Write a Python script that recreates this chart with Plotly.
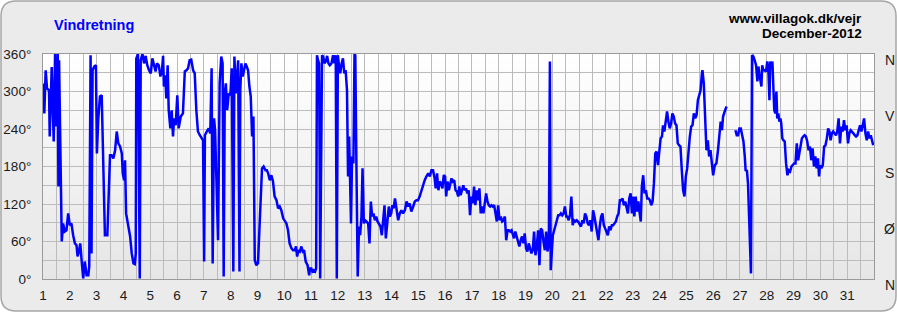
import plotly.graph_objects as go

# ---------------- data (day of month as fractional day, wind direction in degrees) ----------------
day = [
    1.0, 1.05, 1.10, 1.15, 1.225, 1.25, 1.325, 1.4, 1.45, 1.5, 1.55, 1.575, 1.6, 1.7, 1.75, 1.81, 1.875, 1.94,
    2.0, 2.06, 2.125, 2.19, 2.25, 2.29, 2.34, 2.39, 2.44, 2.5, 2.56, 2.625, 2.69, 2.725, 2.775, 2.81, 2.85, 2.91, 2.975,
    3.01, 3.06, 3.125, 3.19, 3.25, 3.31, 3.4, 3.45, 3.5, 3.56, 3.625, 3.69, 3.75, 3.81, 3.875, 3.94, 3.975,
    4.025, 4.06, 4.1, 4.15, 4.2, 4.25, 4.31, 4.375, 4.425, 4.46, 4.48, 4.545, 4.61, 4.645, 4.71, 4.77, 4.83, 4.89, 4.955,
    5.02, 5.08, 5.14, 5.2, 5.25, 5.32, 5.38, 5.44, 5.48, 5.51, 5.56, 5.6, 5.65, 5.69, 5.75, 5.8, 5.85, 5.89, 5.95,
    6.01, 6.06, 6.14, 6.22, 6.29, 6.35, 6.41, 6.47, 6.53, 6.6, 6.66, 6.72, 6.78, 6.85, 6.91, 6.97,
    7.01, 7.04, 7.11, 7.18, 7.24, 7.29, 7.33, 7.38, 7.42, 7.47, 7.53, 7.59, 7.65, 7.7, 7.74, 7.78, 7.82, 7.87, 7.93, 7.99,
    8.04, 8.1, 8.14, 8.19, 8.23, 8.28, 8.33, 8.36, 8.4, 8.45, 8.5, 8.55, 8.6, 8.65, 8.7, 8.75, 8.8, 8.85, 8.9, 8.96,
    9.02, 9.1, 9.17, 9.23, 9.3, 9.35, 9.4, 9.46, 9.52, 9.58, 9.64, 9.71, 9.77, 9.83, 9.89, 9.96,
    10.02, 10.08, 10.14, 10.2, 10.27, 10.33, 10.39, 10.44, 10.48, 10.53, 10.58, 10.64, 10.69, 10.74, 10.8, 10.87, 10.93, 10.96,
    11.01, 11.05, 11.1, 11.15, 11.19, 11.22, 11.26, 11.3, 11.34, 11.37, 11.41, 11.45, 11.5, 11.55, 11.6, 11.65, 11.7, 11.76,
    11.82, 11.87, 11.92, 11.96, 12.0, 12.04, 12.09, 12.14, 12.19, 12.24, 12.29, 12.34, 12.38, 12.42, 12.46, 12.49, 12.53,
    12.58, 12.62, 12.65, 12.69, 12.74, 12.79, 12.83, 12.88, 12.92, 12.97, 13.01, 13.06, 13.13, 13.18, 13.23, 13.28, 13.33,
    13.38, 13.43, 13.48, 13.52, 13.59, 13.64, 13.69, 13.74, 13.79, 13.85, 13.9, 13.94, 13.99, 14.03, 14.08, 14.13, 14.18,
    14.25, 14.31, 14.37, 14.43, 14.5, 14.56, 14.62, 14.68, 14.74, 14.81, 14.87, 14.93, 14.99, 15.05, 15.12, 15.18, 15.24,
    15.3, 15.37, 15.43, 15.49, 15.55, 15.61, 15.65, 15.7, 15.75, 15.8, 15.85, 15.9, 15.95,
    16.0, 16.04, 16.09, 16.14, 16.19, 16.24, 16.29, 16.34, 16.39, 16.44, 16.49, 16.53, 16.58, 16.63, 16.68, 16.73, 16.78,
    16.83, 16.88, 16.93, 16.98, 17.03, 17.08, 17.13, 17.18, 17.23, 17.28, 17.33, 17.38, 17.43, 17.48, 17.53, 17.58, 17.63,
    17.68, 17.73, 17.78, 17.83, 17.88, 17.93, 17.98, 18.03, 18.08, 18.13, 18.18, 18.23, 18.28, 18.33, 18.38, 18.43, 18.48,
    18.52, 18.57, 18.62, 18.67, 18.72, 18.77, 18.82, 18.87, 18.92, 18.97, 19.02, 19.07, 19.12, 19.17, 19.22, 19.27, 19.32,
    19.37, 19.42, 19.47, 19.52, 19.57, 19.62, 19.67, 19.72, 19.77, 19.82, 19.87, 19.91, 19.94, 19.98, 20.02, 20.07, 20.12,
    20.17, 20.22, 20.27, 20.32, 20.37, 20.42, 20.47, 20.52, 20.56, 20.61, 20.66, 20.71, 20.76, 20.81, 20.86, 20.91, 20.96,
    21.07, 21.12, 21.17, 21.22, 21.27, 21.32, 21.37, 21.42, 21.47, 21.52, 21.57, 21.62, 21.67, 21.72, 21.77, 21.82, 21.87,
    21.92, 21.97, 22.02, 22.07, 22.12, 22.17, 22.22, 22.27, 22.32, 22.37, 22.42, 22.47, 22.52, 22.57, 22.62, 22.67, 22.72,
    22.77, 22.82, 22.87, 22.92, 22.97, 23.01, 23.06, 23.11, 23.16, 23.21, 23.26, 23.3, 23.34, 23.39, 23.44, 23.49, 23.54,
    23.59, 23.64, 23.69, 23.74, 23.79, 23.84, 23.89, 23.94, 23.99, 24.04, 24.09, 24.13, 24.18, 24.23, 24.28, 24.33, 24.38,
    24.43, 24.48, 24.53, 24.58, 24.63, 24.68, 24.73, 24.78, 24.83, 24.88, 24.93, 24.98, 25.03, 25.08, 25.13, 25.18, 25.23,
    25.28, 25.33, 25.38, 25.43, 25.48, 25.53, 25.58, 25.6, 25.65, 25.7, 25.75, 25.8, 25.85, 25.9, 25.95, 26.0,
    26.06, 26.12, 26.18, 26.23, 26.28, 26.33, 26.37, 26.43, 26.5, 26.66,
    26.83, 26.88, 26.93, 26.98, 27.03, 27.08, 27.13, 27.18, 27.21, 27.26, 27.3, 27.34, 27.37, 27.41, 27.45, 27.5, 27.55,
    27.6, 27.65, 27.69, 27.72, 27.76, 27.8, 27.83, 27.87, 27.92, 27.97, 28.02, 28.06, 28.1, 28.13, 28.17, 28.21, 28.25,
    28.28, 28.32, 28.36, 28.39, 28.43, 28.47, 28.51, 28.54, 28.58, 28.62, 28.67, 28.72, 28.77, 28.82, 28.87, 28.92, 28.97,
    29.02, 29.07, 29.12, 29.17, 29.22, 29.26, 29.31, 29.36, 29.41, 29.46, 29.51, 29.56, 29.61, 29.66, 29.71, 29.76, 29.81,
    29.86, 29.91, 29.95, 29.99, 30.04, 30.09, 30.14, 30.19, 30.24, 30.29, 30.34, 30.38, 30.43, 30.48, 30.53, 30.58, 30.63,
    30.68, 30.73, 30.78, 30.83, 30.88, 30.93, 30.98, 31.03, 31.08, 31.13, 31.18, 31.23, 31.28, 31.33, 31.38, 31.43, 31.48,
    31.53, 31.58, 31.63, 31.68, 31.73, 31.78, 31.83, 31.88, 31.93, 31.97,
]

deg = [
    313, 265, 334, 305, 302, 228, 339, 220, 360, 244, 360, 148, 350, 60, 89, 76, 78, 105,
    86, 89, 70, 57, 54, 36, 44, 57, 30, 1, 28, 6, 6, 20, 358, 41, 334, 340, 342,
    201, 254, 292, 294, 158, 70, 70, 126, 198, 198, 193, 206, 236, 217, 212, 201, 169,
    158, 190, 105, 94, 78, 68, 41, 25, 24, 41, 353, 360, 1, 350, 360, 345, 357, 342, 334,
    329, 353, 340, 332, 345, 342, 324, 334, 357, 308, 326, 289, 342, 270, 241, 270, 228, 257, 246,
    294, 241, 260, 265, 332, 334, 337, 350, 351, 334, 329, 270, 236, 230, 225, 222,
    28, 230, 236, 241, 233, 337, 25, 257, 238, 153, 62, 313, 356, 345, 4, 297, 313, 270, 297, 294,
    337, 12, 356, 297, 324, 350, 12, 302, 345, 324, 334, 345, 340, 334, 308, 292, 228, 260, 30, 22,
    25, 121, 177, 180, 174, 174, 169, 158, 166, 156, 132, 126, 113, 116, 110, 97,
    92, 89, 78, 57, 49, 46, 46, 52, 36, 46, 44, 52, 44, 46, 28, 22, 6, 17,
    17, 12, 14, 12, 17, 358, 350, 345, 1, 244, 358, 356, 345, 348, 357, 345, 342, 345,
    358, 345, 358, 1, 358, 342, 329, 345, 353, 329, 334, 302, 164, 228, 164, 89, 196,
    185, 360, 358, 190, 4, 84, 70, 100, 177, 89, 94, 92, 89, 57, 124, 100, 105,
    94, 100, 92, 89, 84, 70, 89, 118, 65, 89, 116, 100, 105, 118, 113, 129, 116,
    94, 105, 110, 105, 110, 124, 116, 121, 108, 116, 124, 126, 126, 132, 142, 153, 158,
    164, 169, 164, 174, 174, 161, 145, 169, 142, 156, 153, 145, 166,
    164, 132, 156, 142, 153, 161, 156, 158, 142, 140, 132, 148, 134, 142, 150, 142, 145,
    137, 142, 102, 132, 121, 148, 118, 142, 126, 145, 105, 116, 105, 124, 137, 124, 118,
    116, 118, 116, 118, 105, 92, 118, 94, 100, 92, 94, 100, 62, 78, 78, 76, 78,
    70, 65, 76, 68, 60, 52, 62, 68, 57, 73, 49, 44, 57, 46, 41, 46, 76,
    38, 52, 78, 22, 81, 78, 60, 46, 76, 44, 57, 348, 14, 57, 70, 78, 89,
    94, 102, 102, 105, 102, 105, 116, 100, 100, 94, 102, 132, 86, 94, 92, 94, 92,
    84, 94, 89, 105, 100, 89, 86, 94, 76, 110, 100, 86, 78, 62, 84, 100, 105,
    86, 81, 76, 70, 84, 78, 86, 86, 89, 92, 100, 105, 126, 126, 129, 118, 124,
    116, 105, 129, 137, 105, 132, 100, 132, 108, 124, 105, 92, 148, 166, 137, 142, 129,
    129, 126, 118, 124, 153, 201, 204, 182, 204, 225, 228, 246, 236, 252, 268, 252, 241,
    249, 265, 260, 249, 246, 217, 214, 212, 174, 142, 132, 164, 177, 206, 228, 244, 246,
    265, 257, 262, 286, 294, 302, 329, 334, 313, 260, 206, 222, 196, 206, 182, 166,
    182, 185, 206, 233, 252, 238, 260, 268, 276, None,
    238, 230, 230, 241, 241, 230, 220, 196, 174, 173, 153, 100, 36, 9, 358, 356, 350,
    342, 316, 340, 329, 321, 308, 342, 334, 334, 332, 348, 334, 286, 348, 337, 348, 302,
    270, 265, 300, 257, 265, 252, 257, 249, 225, 222, 220, 185, 166, 174, 172, 180, 182,
    185, 185, 217, 190, 204, 212, 225, 228, 230, 228, 220, 206, 212, 190, 209, 180, 196,
    177, 193, 164, 182, 177, 182, 212, 214, 225, 241, 236, 222, 233, 236, 233, 230, 236,
    257, 217, 244, 236, 254, 238, 246, 217, 233, 238, 236, 233, 230, 228, 230, 238, 246,
    236, 249, 257, 233, 222, 236, 225, 230, 220, 214,
]

day_ticks = list(range(1, 32))
deg_ticks = [0, 60, 120, 180, 240, 300, 360]
deg_labels = ["0°", "60°", "120°", "180°", "240°", "300°", "360°"]
compass_vals = [360, 270, 180, 90, 0]
compass_labels = ["N", "V", "S", "Ø", "N"]

title_text = "Vindretning"
site_text = "www.villagok.dk/vejr"
month_text = "December-2012"

# ---------------- layout geometry (pixels) ----------------
W, H = 897, 312
ML, MR, MT, MB = 43, 23, 54, 33
PW, PH = W - ML - MR, H - MT - MB
FONT = "Liberation Sans, Arial, sans-serif"


def px(xp):
    return (xp - ML) / PW


def py(yp):
    return (H - MB - yp) / PH


fig = go.Figure()
fig.add_trace(go.Scatter(
    x=day, y=deg, mode="lines",
    line=dict(color="#0000ff", width=2.5),
    connectgaps=False, hoverinfo="skip", showlegend=False,
))

shapes = []
# outer rounded frame
x0, y0, x1, y1, r = 1, 1, 896, 311, 15
path = (
    f"M {px(x0 + r)},{py(y0)} L {px(x1 - r)},{py(y0)} Q {px(x1)},{py(y0)} {px(x1)},{py(y0 + r)} "
    f"L {px(x1)},{py(y1 - r)} Q {px(x1)},{py(y1)} {px(x1 - r)},{py(y1)} "
    f"L {px(x0 + r)},{py(y1)} Q {px(x0)},{py(y1)} {px(x0)},{py(y1 - r)} "
    f"L {px(x0)},{py(y0 + r)} Q {px(x0)},{py(y0)} {px(x0 + r)},{py(y0)} Z"
)
shapes.append(dict(type="path", path=path, xref="paper", yref="paper",
                   fillcolor="#ebebeb", line=dict(color="#a6a6a6", width=1.5), layer="below"))
# plot area vertical gradient (white top -> light grey bottom)
n = 45
for i in range(n):
    t = i / (n - 1)
    c = int(round(255 - (255 - 230) * t))
    shapes.append(dict(type="rect", xref="paper", yref="paper",
                       x0=0, x1=1, y0=1 - (i + 1) / n, y1=1 - i / n,
                       fillcolor=f"rgb({c},{c},{c})", line=dict(width=0), layer="below"))

annotations = [
    dict(text=f"<b>{title_text}</b>", xref="paper", yref="paper", x=px(52), y=py(25),
         xanchor="left", yanchor="middle", showarrow=False,
         font=dict(family=FONT, size=14.5, color="#0000ff")),
    dict(text=f"<b>{site_text}</b>", xref="paper", yref="paper", x=px(864), y=py(18),
         xanchor="right", yanchor="middle", showarrow=False,
         font=dict(family=FONT, size=13.5, color="#000000")),
    dict(text=f"<b>{month_text}</b>", xref="paper", yref="paper", x=px(864), y=py(33),
         xanchor="right", yanchor="middle", showarrow=False,
         font=dict(family=FONT, size=13.5, color="#000000")),
]
for v, lab in zip(compass_vals, compass_labels):
    annotations.append(dict(text=lab, xref="paper", yref="y", x=px(890), y=v, yshift=-6,
                            xanchor="center", yanchor="middle", showarrow=False,
                            font=dict(family=FONT, size=14, color="#1a1a1a")))

grid = "#bcbcbc"
fig.update_layout(
    width=W, height=H,
    margin=dict(l=ML, r=MR, t=MT, b=MB, pad=0, autoexpand=False),
    paper_bgcolor="#ffffff",
    plot_bgcolor="rgba(0,0,0,0)",
    shapes=shapes,
    annotations=annotations,
    showlegend=False,
    xaxis=dict(
        range=[1, 32], tickvals=day_ticks, ticktext=[str(d) for d in day_ticks],
        showgrid=True, gridcolor=grid, gridwidth=1,
        minor=dict(dtick=0.5, tick0=1, showgrid=True, gridcolor=grid, gridwidth=1),
        showline=True, mirror=True, linecolor="#9a9a9a", linewidth=1,
        ticks="", zeroline=False, ticklabelstandoff=4, automargin=False,
        tickfont=dict(family=FONT, size=13.5, color="#1a1a1a"),
    ),
    yaxis=dict(
        range=[0, 360], tickvals=deg_ticks, ticktext=deg_labels,
        showgrid=True, gridcolor=grid, gridwidth=1,
        minor=dict(dtick=30, tick0=0, showgrid=True, gridcolor=grid, gridwidth=1),
        showline=True, mirror=True, linecolor="#9a9a9a", linewidth=1,
        ticks="", zeroline=False, ticklabelstandoff=8, automargin=False,
        tickfont=dict(family=FONT, size=13.5, color="#1a1a1a"),
    ),
)

fig.write_html("out.html")
